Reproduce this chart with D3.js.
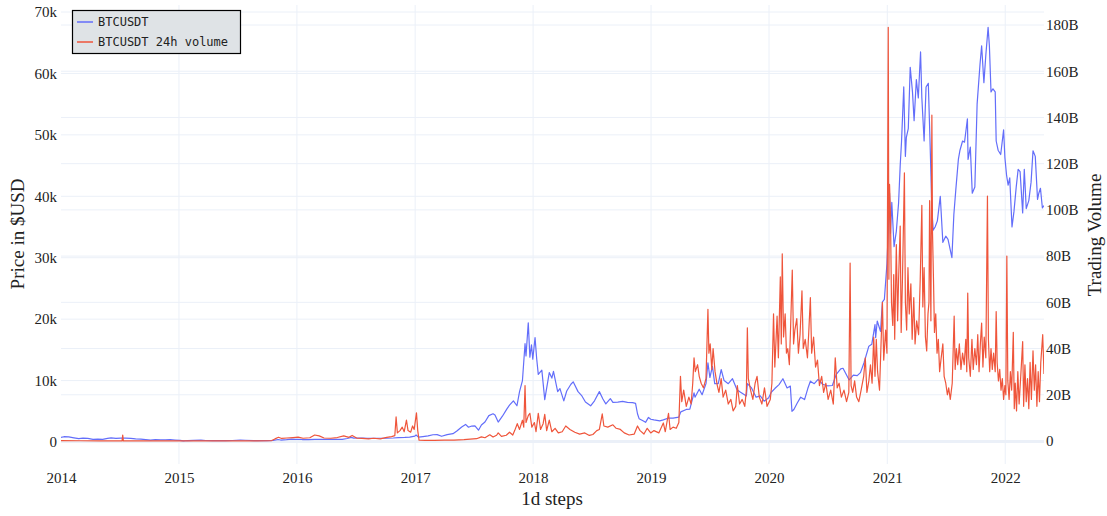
<!DOCTYPE html>
<html lang="en">
<head>
  <meta charset="UTF-8">
  <script src="https://cdn.jsdelivr.net/npm/d3@7"></script>
  <title>BTCUSDT price and volume</title>
  <style>
    * { margin: 0; padding: 0; }
    html, body { width: 100%; height: 100%; background: #fff; }
    svg { display: block; }
    .tick-label { font-family: "Liberation Serif", "Times New Roman", serif; font-size: 15px; fill: #222; }
    .axis-title { font-family: "Liberation Serif", "Times New Roman", serif; font-size: 19px; fill: #222; }
    .legend-text { font-family: "DejaVu Sans Mono", "Liberation Mono", monospace; font-size: 12px; fill: #222; }
  </style>
</head>
<body>
<div id="box"></div>
<script>
  // price in USD
  var priceSeries = [
    ["2014-01-01",760],["2014-01-10",860],["2014-01-25",820],["2014-02-10",680],["2014-02-25",560],["2014-03-10",630],
    ["2014-03-25",580],["2014-04-10",420],["2014-04-25",460],["2014-05-10",440],["2014-05-25",580],["2014-06-05",660],
    ["2014-06-20",590],["2014-07-05",630],["2014-07-20",620],["2014-08-05",590],["2014-08-20",500],["2014-09-05",480],
    ["2014-09-20",400],["2014-10-05",320],["2014-10-20",390],["2014-11-05",340],["2014-11-20",360],["2014-12-05",375],
    ["2014-12-20",320],["2015-01-05",275],["2015-01-15",180],["2015-01-28",240],["2015-02-15",255],["2015-03-10",290],
    ["2015-03-25",245],["2015-04-15",225],["2015-05-05",240],["2015-05-25",238],["2015-06-15",248],["2015-07-10",290],
    ["2015-07-25",285],["2015-08-20",225],["2015-09-10",238],["2015-09-30",236],["2015-10-20",270],["2015-11-04",405],
    ["2015-11-12",320],["2015-11-30",375],["2015-12-15",455],["2015-12-31",430],["2016-01-10",450],["2016-01-20",385],
    ["2016-02-05",375],["2016-02-25",425],["2016-03-15",415],["2016-04-10",420],["2016-04-30",450],["2016-05-20",440],
    ["2016-06-05",575],["2016-06-17",750],["2016-06-25",630],["2016-07-10",650],["2016-07-25",655],["2016-08-05",575],
    ["2016-08-25",580],["2016-09-15",610],["2016-10-05",610],["2016-10-25",655],["2016-11-10",715],["2016-11-30",740],
    ["2016-12-15",780],["2016-12-31",965],["2017-01-04",1130],["2017-01-11",800],["2017-01-25",890],["2017-02-10",990],
    ["2017-02-25",1180],["2017-03-10",1190],["2017-03-24",930],["2017-04-10",1210],["2017-04-28",1350],["2017-05-10",1780],
    ["2017-05-25",2450],["2017-06-06",2860],["2017-06-15",2400],["2017-06-25",2600],["2017-07-05",2620],["2017-07-16",1920],
    ["2017-07-25",2760],["2017-08-05",3250],["2017-08-17",4300],["2017-08-30",4600],["2017-09-05",4400],["2017-09-15",3250],
    ["2017-09-28",4200],["2017-10-12",5400],["2017-10-20",6000],["2017-11-01",6700],["2017-11-12",5900],["2017-11-20",8200],
    ["2017-11-29",10000],["2017-12-07",16000],["2017-12-10",14000],["2017-12-17",19400],["2017-12-22",13800],["2017-12-27",15800],
    ["2017-12-31",13500],["2018-01-07",17000],["2018-01-12",13600],["2018-01-17",11000],["2018-01-28",11700],["2018-02-06",6900],
    ["2018-02-20",11300],["2018-02-28",10400],["2018-03-05",11500],["2018-03-18",8200],["2018-03-25",8700],["2018-04-06",6700],
    ["2018-04-15",8300],["2018-04-28",9400],["2018-05-05",9800],["2018-05-20",8200],["2018-06-01",7500],["2018-06-12",6500],
    ["2018-06-28",5900],["2018-07-10",6700],["2018-07-25",8200],["2018-08-05",7000],["2018-08-14",6200],["2018-08-28",7050],
    ["2018-09-05",6450],["2018-09-20",6500],["2018-10-05",6600],["2018-10-20",6450],["2018-11-05",6400],["2018-11-14",6300],
    ["2018-11-20",4600],["2018-11-25",3800],["2018-12-07",3450],["2018-12-15",3200],["2018-12-24",4000],["2018-12-31",3700],
    ["2019-01-10",3600],["2019-01-28",3450],["2019-02-08",3600],["2019-02-24",3900],["2019-03-10",3900],["2019-03-28",4050],
    ["2019-04-03",4900],["2019-04-20",5300],["2019-05-01",5350],["2019-05-14",8000],["2019-05-17",7300],["2019-05-30",8600],
    ["2019-06-08",7700],["2019-06-20",9500],["2019-06-26",12900],["2019-07-02",10500],["2019-07-10",12300],["2019-07-17",9500],
    ["2019-07-28",9500],["2019-08-06",11800],["2019-08-15",10000],["2019-08-28",9500],["2019-09-10",10300],["2019-09-24",8500],
    ["2019-10-05",8100],["2019-10-23",7500],["2019-10-26",9500],["2019-11-08",8800],["2019-11-22",7300],["2019-12-05",7500],
    ["2019-12-17",6650],["2019-12-31",7200],["2020-01-08",8100],["2020-01-19",8700],["2020-02-01",9350],["2020-02-13",10300],
    ["2020-02-26",8800],["2020-03-07",9100],["2020-03-12",5000],["2020-03-18",5300],["2020-03-28",6300],["2020-04-08",7300],
    ["2020-04-20",6900],["2020-04-30",8700],["2020-05-08",9900],["2020-05-20",9500],["2020-06-01",10200],["2020-06-15",9400],
    ["2020-06-30",9150],["2020-07-15",9200],["2020-07-27",11000],["2020-08-10",11900],["2020-08-17",12000],["2020-09-05",10100],
    ["2020-09-18",10900],["2020-09-30",10800],["2020-10-10",11300],["2020-10-21",12900],["2020-11-05",15600],["2020-11-14",15900],
    ["2020-11-24",19100],["2020-11-26",17000],["2020-12-01",19700],["2020-12-11",18000],["2020-12-17",22800],["2020-12-23",23200],
    ["2020-12-31",29000],["2021-01-03",33000],["2021-01-08",40500],["2021-01-11",34000],["2021-01-15",39000],["2021-01-22",31800],
    ["2021-01-29",34300],["2021-02-05",38900],["2021-02-10",45000],["2021-02-14",48800],["2021-02-21",57800],["2021-02-26",46500],
    ["2021-03-01",49600],["2021-03-07",51000],["2021-03-13",61000],["2021-03-20",57000],["2021-03-25",52300],["2021-04-01",59000],
    ["2021-04-07",56000],["2021-04-14",63500],["2021-04-18",56000],["2021-04-25",49000],["2021-05-01",57800],["2021-05-08",58400],
    ["2021-05-13",49500],["2021-05-19",38000],["2021-05-23",34500],["2021-05-29",35000],["2021-06-05",36000],["2021-06-14",40000],
    ["2021-06-22",32500],["2021-07-01",33500],["2021-07-08",33000],["2021-07-20",30000],["2021-07-26",37000],["2021-08-01",41000],
    ["2021-08-09",46000],["2021-08-14",47500],["2021-08-22",49000],["2021-08-28",48800],["2021-09-06",52600],["2021-09-08",46000],
    ["2021-09-15",48000],["2021-09-21",40500],["2021-09-29",41500],["2021-10-06",55000],["2021-10-15",61500],["2021-10-20",64500],
    ["2021-10-27",58500],["2021-11-02",63000],["2021-11-09",67500],["2021-11-13",64500],["2021-11-18",57000],["2021-11-24",57500],
    ["2021-12-01",57000],["2021-12-04",49000],["2021-12-10",47500],["2021-12-18",46800],["2021-12-27",50800],["2021-12-31",46300],
    ["2022-01-05",43500],["2022-01-10",41800],["2022-01-15",43000],["2022-01-22",35000],["2022-01-28",37500],["2022-02-04",41500],
    ["2022-02-10",44400],["2022-02-16",44000],["2022-02-24",37300],["2022-03-01",44400],["2022-03-07",38000],["2022-03-15",39300],
    ["2022-03-22",42300],["2022-03-28",47400],["2022-04-04",46500],["2022-04-11",39500],["2022-04-15",40500],["2022-04-20",41300],
    ["2022-04-26",38100],["2022-05-01",38500]
  ];

  // 24h volume in billions of USD
  var volumeSeries = [
    ["2014-01-01",0.15],["2014-03-01",0.1],["2014-05-01",0.08],["2014-07-09",0.08],["2014-07-11",2.6],["2014-07-13",0.08],
    ["2014-10-01",0.06],["2014-12-31",0.05],["2015-03-01",0.05],["2015-06-01",0.04],["2015-09-01",0.05],["2015-10-15",0.2],
    ["2015-10-25",0.9],["2015-11-05",1.6],["2015-11-15",1.1],["2015-12-01",1.3],["2015-12-20",1.5],["2016-01-05",1.7],
    ["2016-01-20",1.2],["2016-02-10",1.4],["2016-02-25",2.6],["2016-03-10",2.2],["2016-03-25",1.3],["2016-04-15",1.2],
    ["2016-05-05",1.5],["2016-05-25",2.2],["2016-06-10",1.6],["2016-06-20",2.4],["2016-07-05",1.2],["2016-07-20",1.1],
    ["2016-08-10",0.9],["2016-08-25",1.2],["2016-09-15",0.9],["2016-10-05",1.6],["2016-10-20",1.9],["2016-10-30",2.3],
    ["2016-11-03",10.4],["2016-11-07",3.5],["2016-11-15",4.5],["2016-11-22",6],["2016-11-28",4],["2016-12-05",9],
    ["2016-12-10",4.5],["2016-12-18",3.8],["2016-12-24",6.5],["2016-12-29",5],["2017-01-05",12.2],["2017-01-09",4.5],
    ["2017-01-13",0.4],["2017-02-01",0.3],["2017-03-01",0.3],["2017-04-01",0.35],["2017-05-01",0.4],["2017-06-01",0.6],
    ["2017-06-20",0.8],["2017-07-10",1.0],["2017-07-25",1.8],["2017-08-05",1.4],["2017-08-20",2.7],["2017-08-30",1.7],
    ["2017-09-10",2.5],["2017-09-15",3.5],["2017-09-25",2.0],["2017-10-10",2.5],["2017-10-20",3.8],["2017-10-30",2.6],
    ["2017-11-05",4.5],["2017-11-13",7.5],["2017-11-20",5],["2017-11-29",9],["2017-12-03",6],["2017-12-07",24],
    ["2017-12-10",8],["2017-12-17",11],["2017-12-22",12],["2017-12-28",6],["2018-01-05",8],["2018-01-10",4],
    ["2018-01-17",12],["2018-01-24",5],["2018-02-01",7.5],["2018-02-06",11.5],["2018-02-12",4.5],["2018-02-20",9],
    ["2018-02-28",4],["2018-03-10",5.5],["2018-03-20",3.5],["2018-04-01",4],["2018-04-12",6.5],["2018-04-25",5],
    ["2018-05-10",3.8],["2018-05-25",3],["2018-06-10",3.5],["2018-06-24",2.4],["2018-07-05",2.8],["2018-07-17",4.5],
    ["2018-07-25",5],["2018-08-03",11.7],["2018-08-08",6.5],["2018-08-20",6],["2018-09-05",7],["2018-09-15",5.5],
    ["2018-09-28",5],["2018-10-10",3.5],["2018-10-25",2.6],["2018-11-10",3],["2018-11-20",6.5],["2018-11-28",4.5],
    ["2018-12-10",3],["2018-12-20",5.5],["2018-12-31",3.5],["2019-01-10",4.5],["2019-01-25",3.5],["2019-02-08",7.8],
    ["2019-02-14",4],["2019-02-24",12],["2019-03-01",5],["2019-03-10",6],["2019-03-20",5.5],["2019-03-28",8],
    ["2019-04-02",28],["2019-04-06",17],["2019-04-12",22],["2019-04-20",15],["2019-04-28",19],["2019-05-05",16],
    ["2019-05-10",25],["2019-05-14",36],["2019-05-18",30],["2019-05-25",33],["2019-05-30",28],["2019-06-05",25],
    ["2019-06-12",23],["2019-06-20",27],["2019-06-26",57],["2019-06-29",38],["2019-07-03",42],["2019-07-08",31],
    ["2019-07-12",40],["2019-07-18",30],["2019-07-25",24],["2019-07-30",21],["2019-08-06",27],["2019-08-12",19],
    ["2019-08-20",22],["2019-08-28",16],["2019-09-05",18],["2019-09-12",13],["2019-09-20",15],["2019-09-25",24],
    ["2019-10-02",16],["2019-10-10",18],["2019-10-18",15],["2019-10-23",22],["2019-10-26",49],["2019-10-29",27],
    ["2019-11-05",22],["2019-11-12",18],["2019-11-19",25],["2019-11-25",28],["2019-12-02",19],["2019-12-10",16],
    ["2019-12-18",23],["2019-12-26",15],["2020-01-05",18],["2020-01-10",25],["2020-01-15",55],["2020-01-19",32],
    ["2020-01-26",54],["2020-01-30",36],["2020-02-05",71],["2020-02-08",42],["2020-02-11",81],["2020-02-15",45],
    ["2020-02-20",55],["2020-02-24",38],["2020-02-28",40],["2020-03-04",33],["2020-03-08",50],["2020-03-13",74],
    ["2020-03-17",42],["2020-03-21",48],["2020-03-27",53],["2020-04-01",38],["2020-04-06",46],["2020-04-12",65],
    ["2020-04-16",40],["2020-04-22",44],["2020-04-29",36],["2020-05-03",47],["2020-05-08",62],["2020-05-12",38],
    ["2020-05-18",45],["2020-05-24",32],["2020-05-30",35],["2020-06-05",24],["2020-06-12",28],["2020-06-18",21],
    ["2020-06-25",25],["2020-07-02",18],["2020-07-10",22],["2020-07-18",16],["2020-07-24",36],["2020-07-30",23],
    ["2020-08-05",25],["2020-08-12",19],["2020-08-20",22],["2020-08-28",17],["2020-09-04",21],["2020-09-08",77],
    ["2020-09-11",24],["2020-09-16",21],["2020-09-22",26],["2020-09-28",19],["2020-10-05",17],["2020-10-12",22],
    ["2020-10-20",28],["2020-10-25",36],["2020-10-30",21],["2020-11-05",26],["2020-11-10",33],["2020-11-15",25],
    ["2020-11-20",45],["2020-11-24",28],["2020-11-28",44],["2020-12-02",30],["2020-12-08",22],["2020-12-12",39],
    ["2020-12-17",60],["2020-12-21",35],["2020-12-27",48],["2020-12-31",38],["2021-01-04",179],["2021-01-06",70],
    ["2021-01-08",111],["2021-01-11",97],["2021-01-14",60],["2021-01-18",50],["2021-01-21",72],["2021-01-24",44],
    ["2021-01-29",85],["2021-02-02",52],["2021-02-05",70],["2021-02-10",93],["2021-02-13",47],["2021-02-17",70],
    ["2021-02-23",116],["2021-02-26",60],["2021-03-02",48],["2021-03-06",75],["2021-03-10",55],["2021-03-15",68],
    ["2021-03-19",44],["2021-03-24",62],["2021-03-28",42],["2021-04-02",52],["2021-04-08",46],["2021-04-13",70],
    ["2021-04-18",102],["2021-04-21",58],["2021-04-25",75],["2021-04-29",45],["2021-05-03",39],["2021-05-07",55],
    ["2021-05-10",60],["2021-05-12",104],["2021-05-16",52],["2021-05-19",141],["2021-05-21",90],["2021-05-24",70],
    ["2021-05-27",47],["2021-05-31",55],["2021-06-04",38],["2021-06-08",44],["2021-06-12",30],["2021-06-16",35],
    ["2021-06-22",42],["2021-06-26",28],["2021-07-01",25],["2021-07-06",20],["2021-07-10",23],["2021-07-15",18],
    ["2021-07-21",25],["2021-07-27",54],["2021-07-30",31],["2021-08-03",40],["2021-08-07",33],["2021-08-12",42],
    ["2021-08-17",31],["2021-08-22",38],["2021-08-27",33],["2021-09-01",44],["2021-09-04",30],["2021-09-07",64],
    ["2021-09-10",36],["2021-09-15",28],["2021-09-20",44],["2021-09-24",31],["2021-09-29",40],["2021-10-04",33],
    ["2021-10-08",46],["2021-10-12",30],["2021-10-16",42],["2021-10-20",51],["2021-10-24",32],["2021-10-28",45],
    ["2021-11-02",36],["2021-11-07",106],["2021-11-10",44],["2021-11-14",30],["2021-11-18",40],["2021-11-22",31],
    ["2021-11-26",38],["2021-12-01",30],["2021-12-04",56],["2021-12-07",34],["2021-12-11",26],["2021-12-15",31],
    ["2021-12-19",22],["2021-12-23",27],["2021-12-27",18],["2021-12-31",24],["2022-01-03",20],["2022-01-06",80],
    ["2022-01-09",26],["2022-01-13",18],["2022-01-17",30],["2022-01-21",22],["2022-01-26",47],["2022-01-29",14],
    ["2022-02-01",25],["2022-02-05",13],["2022-02-09",30],["2022-02-13",16],["2022-02-18",28],["2022-02-24",43],
    ["2022-02-27",15],["2022-03-03",33],["2022-03-07",17],["2022-03-11",27],["2022-03-15",14],["2022-03-19",34],
    ["2022-03-23",18],["2022-03-28",39],["2022-04-01",22],["2022-04-05",33],["2022-04-09",15],["2022-04-13",30],
    ["2022-04-17",17],["2022-04-21",34],["2022-04-27",46],["2022-05-01",29]
  ];

  var priceTicks = [0, 10000, 20000, 30000, 40000, 50000, 60000, 70000];
  var volumeTicks = [0, 20, 40, 60, 80, 100, 120, 140, 160, 180];   // billions
  var yearTicks = ["2014", "2015", "2016", "2017", "2018", "2019", "2020", "2021", "2022"];
  var seriesNames = ["BTCUSDT", "BTCUSDT 24h volume"];
  var seriesColors = ["#636efa", "#ef553b"];

  var width = 1107, height = 516;
  var plot = {left: 61, right: 1044, top: 5, bottom: 464};

  var parse = d3.timeParse("%Y-%m-%d");
  var price = priceSeries.map(function (d) { return {t: parse(d[0]), v: d[1]}; });
  var volume = volumeSeries.map(function (d) { return {t: parse(d[0]), v: d[1]}; });

  var x = d3.scaleTime()
    .domain([parse("2014-01-01"), parse("2022-05-01")])
    .range([plot.left, plot.right]);
  var yL = d3.scaleLinear().domain([0, 70000]).range([442, 12]);
  var yR = d3.scaleLinear().domain([0, 180]).range([441, 25]);

  var svg = d3.select("#box").append("svg")
    .attr("width", width).attr("height", height);

  svg.append("clipPath").attr("id", "clip")
    .append("rect")
    .attr("x", plot.left).attr("y", plot.top)
    .attr("width", plot.right - plot.left).attr("height", plot.bottom - plot.top);

  var grid = svg.append("g").attr("stroke", "#ebf0f8").attr("fill", "none");
  // vertical year lines
  grid.selectAll("line.vx").data(yearTicks).enter().append("line")
    .attr("x1", function (d) { return x(parse(d + "-01-01")); })
    .attr("x2", function (d) { return x(parse(d + "-01-01")); })
    .attr("y1", plot.top).attr("y2", plot.bottom)
    .attr("stroke-width", function (d, i) { return i === 0 ? 0 : 1; });
  // left grid
  grid.selectAll("line.hl").data(priceTicks).enter().append("line")
    .attr("x1", plot.left).attr("x2", plot.right)
    .attr("y1", function (d) { return yL(d); }).attr("y2", function (d) { return yL(d); })
    .attr("stroke-width", function (d) { return d === 0 ? 2 : 1; });
  // right grid
  grid.selectAll("line.hr").data(volumeTicks).enter().append("line")
    .attr("x1", plot.left).attr("x2", plot.right)
    .attr("y1", function (d) { return yR(d); }).attr("y2", function (d) { return yR(d); })
    .attr("stroke-width", function (d) { return d === 0 ? 2 : 1; });

  // lines
  var priceLine = d3.line().x(function (d) { return x(d.t); }).y(function (d) { return yL(d.v); });
  var volumeLine = d3.line().x(function (d) { return x(d.t); }).y(function (d) { return yR(d.v); });

  var lines = svg.append("g").attr("clip-path", "url(#clip)");
  lines.append("path").datum(price)
    .attr("d", priceLine)
    .attr("fill", "none").attr("stroke", seriesColors[0]).attr("stroke-width", 1.2)
    .attr("stroke-linejoin", "round");
  lines.append("path").datum(volume)
    .attr("d", volumeLine)
    .attr("fill", "none").attr("stroke", seriesColors[1]).attr("stroke-width", 1.2)
    .attr("stroke-linejoin", "round");

  // axes (plotly style: labels only)
  var xAxis = d3.axisBottom(x)
    .tickValues(yearTicks.map(function (d) { return parse(d + "-01-01"); }))
    .tickFormat(d3.timeFormat("%Y")).tickSize(0).tickPadding(0);
  var gx = svg.append("g").attr("transform", "translate(0," + 472 + ")").call(xAxis);

  var yAxisL = d3.axisLeft(yL).tickValues(priceTicks)
    .tickFormat(function (d) { return d === 0 ? "0" : (d / 1000) + "k"; })
    .tickSize(0).tickPadding(4);
  var gl = svg.append("g").attr("transform", "translate(" + plot.left + ",0)").call(yAxisL);

  var yAxisR = d3.axisRight(yR).tickValues(volumeTicks)
    .tickFormat(function (d) { return d === 0 ? "0" : d + "B"; })
    .tickSize(0).tickPadding(2);
  var gr = svg.append("g").attr("transform", "translate(" + plot.right + ",0)").call(yAxisR);

  [gx, gl, gr].forEach(function (g) {
    g.select(".domain").remove();
    g.selectAll("text").attr("class", "tick-label").attr("fill", null);
  });

  svg.append("text").attr("class", "axis-title")
    .attr("x", 552).attr("y", 505).attr("text-anchor", "middle").text("1d steps");
  svg.append("text").attr("class", "axis-title")
    .attr("transform", "translate(24,234) rotate(-90)")
    .attr("text-anchor", "middle").text("Price in $USD");
  svg.append("text").attr("class", "axis-title")
    .attr("transform", "translate(1101,235) rotate(-90)")
    .attr("text-anchor", "middle").text("Trading Volume");

  // legend
  var legend = svg.append("g").attr("transform", "translate(72,10)");
  legend.append("rect")
    .attr("x", 0.5).attr("y", 0.5).attr("width", 168).attr("height", 43)
    .attr("fill", "#dfe3e6").attr("stroke", "#000").attr("stroke-width", 1.2);
  var items = legend.selectAll("g.item").data(seriesNames).enter().append("g")
    .attr("transform", function (d, i) { return "translate(0," + (12 + i * 20) + ")"; });
  items.append("line")
    .attr("x1", 5).attr("x2", 21).attr("y1", 0).attr("y2", 0)
    .attr("stroke", function (d, i) { return seriesColors[i]; }).attr("stroke-width", 1.5);
  items.append("text").attr("class", "legend-text")
    .attr("x", 26).attr("y", 4).text(function (d) { return d; });
</script>
</body>
</html>
